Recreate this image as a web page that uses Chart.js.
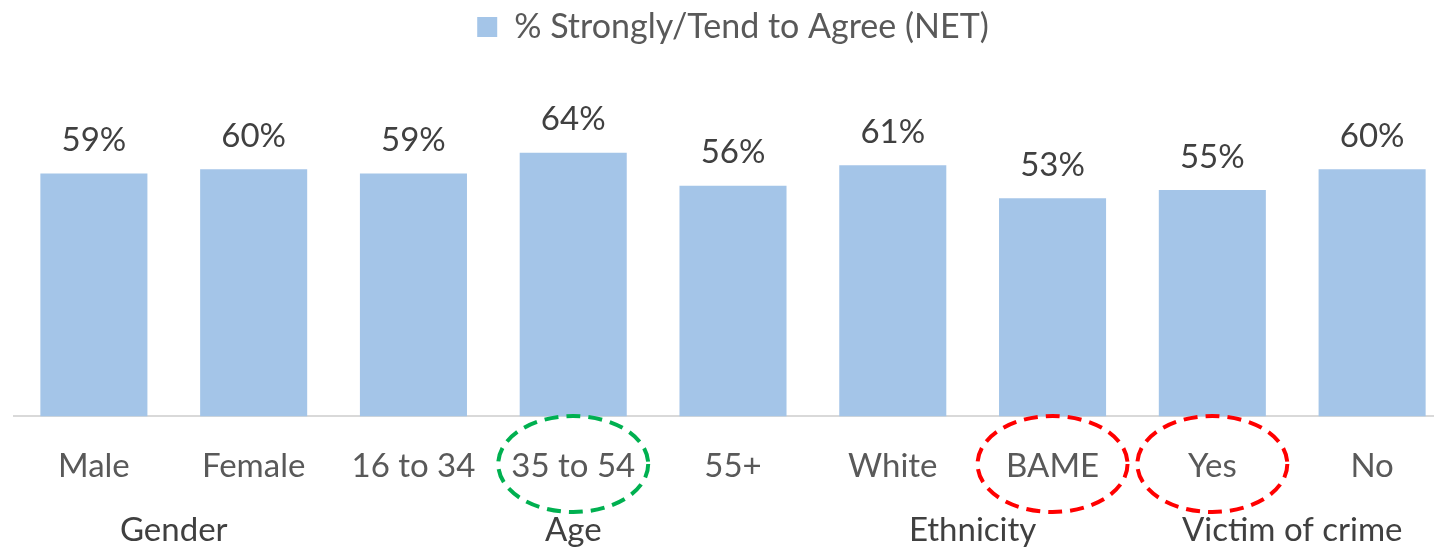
<!DOCTYPE html>
<html>
<head>
<meta charset="utf-8">
<script src="https://cdn.jsdelivr.net/npm/chart.js@4"></script>
<style>
  html, body { margin: 0; padding: 0; background: #fff; overflow: hidden; }
  #wrap { position: relative; width: 1466px; height: 548px; }
</style>
</head>
<body>
<div id="wrap"><canvas id="c" width="1466" height="548"></canvas></div>
<script>
const categories = ['Male', 'Female', '16 to 34', '35 to 54', '55+', 'White', 'BAME', 'Yes', 'No'];
const agreeValues = [59, 60, 59, 64, 56, 61, 53, 55, 60];
const seriesName = '% Strongly/Tend to Agree (NET)';
const groupNames = ['Gender', 'Age', 'Ethnicity', 'Victim of crime'];
const groupFirst = [0, 2, 5, 7];
const groupLast = [1, 4, 6, 8];
const greenCircled = ['35 to 54'];
const redCircled = ['BAME', 'Yes'];

const FONT = 'Lato, "Open Sans", sans-serif';
const FS = 33;

const extrasPlugin = {
  id: 'extras',
  afterDatasetsDraw(chart) {
    const ctx = chart.ctx;
    const meta = chart.getDatasetMeta(0);
    const xs = chart.scales.x;
    ctx.save();
    ctx.font = FS + 'px ' + FONT;
    ctx.fillStyle = '#404040';
    ctx.textAlign = 'center';
    ctx.textBaseline = 'middle';
    meta.data.forEach((bar, i) => {
      ctx.fillText(agreeValues[i] + '%', bar.x, bar.y - 33);
    });
    ctx.fillStyle = '#404040';
    groupNames.forEach((g, i) => {
      const x = (xs.getPixelForValue(groupFirst[i]) + xs.getPixelForValue(groupLast[i])) / 2;
      ctx.fillText(g, x, 530);
    });
    ctx.lineWidth = 4;
    ctx.setLineDash([14, 8]);
    const drawEll = (label, color) => {
      const idx = categories.indexOf(label);
      const cx = xs.getPixelForValue(idx);
      ctx.strokeStyle = color;
      ctx.beginPath();
      ctx.ellipse(cx, 464, 75, 48, 0, 0, Math.PI * 2);
      ctx.stroke();
    };
    greenCircled.forEach(l => drawEll(l, '#00B050'));
    redCircled.forEach(l => drawEll(l, '#FF0000'));
    ctx.restore();
  }
};

new Chart(document.getElementById('c'), {
  type: 'bar',
  data: {
    labels: categories,
    datasets: [{
      label: seriesName,
      data: agreeValues,
      backgroundColor: '#A4C5E8',
      borderWidth: 0,
      categoryPercentage: 1,
      barPercentage: 0.67
    }]
  },
  options: {
    responsive: false,
    animation: false,
    layout: { padding: { left: 14, right: 14, top: 0, bottom: 32 } },
    plugins: {
      legend: {
        position: 'top',
        labels: {
          boxWidth: 20, boxHeight: 20, padding: 10,
          color: '#595959',
          font: { family: FONT, size: 34 }
        }
      },
      tooltip: { enabled: false }
    },
    scales: {
      x: {
        grid: { display: false, drawTicks: false },
        border: { display: true, color: '#D9D9D9', width: 2 },
        ticks: { color: '#595959', font: { family: FONT, size: FS }, padding: 30, maxRotation: 0, autoSkip: false }
      },
      y: {
        display: false,
        min: 0,
        max: 88
      }
    }
  },
  plugins: [extrasPlugin]
});
</script>
</body>
</html>
